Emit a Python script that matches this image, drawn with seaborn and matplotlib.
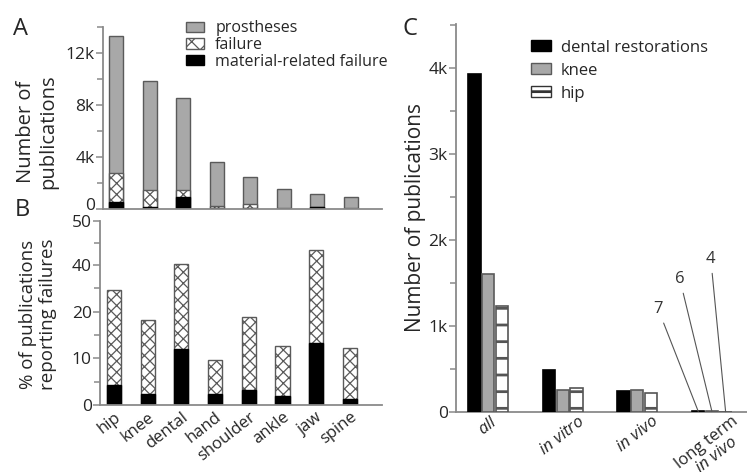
import matplotlib
matplotlib.use("Agg")
import matplotlib.pyplot as plt
import matplotlib.transforms as mtransforms
import seaborn as sns
import numpy as np
import pandas as pd
from matplotlib.patches import Patch
from matplotlib.ticker import FixedLocator, FixedFormatter

# ---------------- data ----------------
sites = ["hip", "knee", "dental", "hand", "shoulder", "ankle", "jaw", "spine"]
prostheses = [13300, 9850, 8500, 3600, 2500, 1550, 1150, 900]
failure = [2800, 1500, 1450, 250, 350, 100, 170, 80]
material_failure = [550, 150, 950, 60, 70, 30, 150, 20]

fail_pct = [29.4, 18.2, 40.3, 9.6, 18.9, 12.6, 43.4, 12.2]
material_pct = [4.3, 2.4, 11.9, 2.4, 3.3, 1.9, 13.3, 1.2]

conditions = ["all", "in vitro", "in vivo", "long term in vivo"]
cond_labels = [r"$\it{all}$", r"$\it{in\ vitro}$", r"$\it{in\ vivo}$", "long term\n" + r"$\it{in\ vivo}$"]
dental_c = [3930, 490, 245, 7]
knee_c = [1600, 260, 250, 6]
hip_c = [1235, 280, 220, 4]

a_ticks = [0, 4000, 8000, 12000]
a_ticklabels = ["0", "4k", "8k", "12k"]
b_ticks = [0, 10, 20, 40, 50]
b_ticklabels = ["0", "10", "20", "40", "50"]
c_ticks = [0, 1000, 2000, 3000, 4000]
c_ticklabels = ["0", "1k", "2k", "3k", "4k"]

# ---------------- style ----------------
sns.set_theme(style="white")
plt.rcParams["font.family"] = ["Open Sans", "DejaVu Sans"]
plt.rcParams["mathtext.fontset"] = "custom"
plt.rcParams["mathtext.it"] = "Open Sans:italic"
plt.rcParams["mathtext.rm"] = "Open Sans"
plt.rcParams["hatch.linewidth"] = 0.9
plt.rcParams["hatch.color"] = "black"

GRAY = "#a8a8a8"
EDGE_GRAY = "#5a5a5a"
SPINE = "#8a8a8a"
TICK_FS = 12.5

fig = plt.figure(figsize=(7.47, 4.72), dpi=100)
W, H = 747, 472


def px_axes(l, t, r, b):
    return fig.add_axes([l / W, 1 - b / H, (r - l) / W, (b - t) / H])


def style_axes(ax):
    sns.despine(ax=ax)
    for s in ("left", "bottom"):
        ax.spines[s].set_color(SPINE)
        ax.spines[s].set_linewidth(1.3)
    ax.tick_params(axis="y", which="major", direction="out", length=5, width=1.1,
                   color=SPINE, labelsize=TICK_FS, pad=1, left=True)
    ax.tick_params(axis="y", which="minor", direction="out", length=4, width=1.1,
                   color=SPINE, left=True)
    ax.tick_params(axis="x", length=0)
    ax.set_xlabel("")
    ax.set_ylabel("")


# ---------------- panel A ----------------
axA = px_axes(103, 27, 382, 209)
sns.barplot(x=sites, y=prostheses, color=GRAY, edgecolor=EDGE_GRAY, linewidth=1.0,
            width=0.42, saturation=1, ax=axA)
sns.barplot(x=sites, y=failure, color="white", edgecolor=EDGE_GRAY, linewidth=1.0,
            width=0.42, saturation=1, hatch="xxx", ax=axA)
sns.barplot(x=sites, y=material_failure, color="black", edgecolor="black", linewidth=1.0,
            width=0.42, saturation=1, ax=axA)
axA.set_ylim(0, 14000)
axA.set_xlim(-0.40, 7.93)
axA.yaxis.set_major_locator(FixedLocator(a_ticks))
axA.yaxis.set_major_formatter(FixedFormatter(a_ticklabels))
axA.yaxis.set_minor_locator(FixedLocator([2000, 6000, 10000, 14000]))
axA.set_xticks([])
style_axes(axA)
# the "0" label of panel A sits slightly above its tick in the reference
lab0 = axA.get_yticklabels()[0]
lab0.set_transform(lab0.get_transform() +
                   mtransforms.ScaledTranslation(0, 5 / 100, fig.dpi_scale_trans))
axA.legend(
    handles=[Patch(facecolor=GRAY, edgecolor=EDGE_GRAY, label="prostheses"),
             Patch(facecolor="white", edgecolor=EDGE_GRAY, hatch="xx", label="failure"),
             Patch(facecolor="black", edgecolor="black", label="material-related failure")],
    loc="upper left", bbox_to_anchor=(0.299, 1.037), frameon=False, fontsize=11.5,
    handlelength=1.1, handleheight=0.6, handletextpad=0.7, labelspacing=0.05,
    borderpad=0, borderaxespad=0)

# ---------------- panel B ----------------
axB = px_axes(100, 221, 382, 405)
fwd_x = [0, 20, 40, 50]
fwd_y = [0, 20, 30, 39.4]
axB.set_yscale("function", functions=(lambda v: np.interp(v, fwd_x, fwd_y),
                                      lambda v: np.interp(v, fwd_y, fwd_x)))
sns.barplot(x=sites, y=fail_pct, color="white", edgecolor=EDGE_GRAY, linewidth=1.0,
            width=0.42, saturation=1, hatch="xxx", ax=axB)
sns.barplot(x=sites, y=material_pct, color="black", edgecolor="black", linewidth=1.0,
            width=0.42, saturation=1, ax=axB)
axB.set_ylim(0, 50)
axB.set_xlim(-0.415, 7.95)
axB.yaxis.set_major_locator(FixedLocator(b_ticks))
axB.yaxis.set_major_formatter(FixedFormatter(b_ticklabels))
axB.yaxis.set_minor_locator(FixedLocator([5, 15, 30, 45]))
style_axes(axB)
axB.set_xticks(range(len(sites)))
axB.set_xticklabels(sites, rotation=38, ha="right", rotation_mode="anchor", fontsize=12)
axB.tick_params(axis="x", pad=3)

# ---------------- panel C ----------------
axC = px_axes(456, 24, 747, 412)
dfC = pd.DataFrame({
    "condition": conditions * 3,
    "group": ["dental restorations"] * 4 + ["knee"] * 4 + ["hip"] * 4,
    "count": dental_c + knee_c + hip_c,
})
plt.rcParams["hatch.linewidth"] = 2.0
sns.barplot(data=dfC, x="condition", y="count", hue="group",
            palette=["black", GRAY, "white"], saturation=1, width=0.55, gap=0.1,
            edgecolor="black", linewidth=1.2, legend=False, zorder=3, ax=axC)
for p in axC.containers[1]:
    p.set_edgecolor(EDGE_GRAY)
for p in axC.containers[2]:
    p.set_hatch("-")
    p.set_edgecolor("#555555")
axC.set_ylim(0, 4510)
axC.set_xlim(-0.43, 3.47)
axC.yaxis.set_major_locator(FixedLocator(c_ticks))
axC.yaxis.set_major_formatter(FixedFormatter(c_ticklabels))
axC.yaxis.set_minor_locator(FixedLocator([500, 1500, 2500, 3500, 4500]))
style_axes(axC)
axC.set_xticks(range(len(conditions)))
axC.set_xticklabels(cond_labels, rotation=38, ha="center", fontsize=12,
                    multialignment="center", linespacing=1.0)
axC.tick_params(axis="x", pad=1)
axC.set_ylabel("Number of publications", fontsize=15, labelpad=2)

# annotations for long-term bars
label_pos = [(2.28, 1195), (2.57, 1543), (2.985, 1775)]
for cont, vals, (tx, ty) in zip(axC.containers, [dental_c, knee_c, hip_c], label_pos):
    bar = cont[3]
    bx = bar.get_x() + bar.get_width() / 2
    axC.annotate(str(vals[3]), xy=(bx, vals[3]), xytext=(tx, ty),
                 ha="center", va="center", fontsize=12, color="#333333",
                 arrowprops=dict(arrowstyle="-", color="#555555", lw=0.8,
                                 shrinkA=2, shrinkB=0))

axC.legend(
    handles=[Patch(facecolor="black", edgecolor="black", label="dental restorations"),
             Patch(facecolor=GRAY, edgecolor=EDGE_GRAY, label="knee"),
             Patch(facecolor="white", edgecolor="#333333", hatch="-", label="hip")],
    loc="upper left", bbox_to_anchor=(0.257, 0.96), frameon=False, fontsize=12,
    handlelength=1.2, handleheight=0.6, handletextpad=0.6, labelspacing=0.42,
    borderpad=0, borderaxespad=0)

# ---------------- texts ----------------
fig.text(37 / W, 1 - 132 / H, "Number of\npublications", rotation=90, ha="center",
         va="center", fontsize=14.5, multialignment="center", linespacing=1.1)
fig.text(38 / W, 1 - 314 / H, "% of publications\nreporting failures", rotation=90,
         ha="center", va="center", fontsize=13.5, multialignment="center", linespacing=1.1)
fig.text(13 / W, 1 - 17 / H, "A", fontsize=17, ha="left", va="top")
fig.text(15 / W, 1 - 198 / H, "B", fontsize=17, ha="left", va="top")
fig.text(402 / W, 1 - 17 / H, "C", fontsize=17, ha="left", va="top")

fig.savefig("out.png", dpi=100)
